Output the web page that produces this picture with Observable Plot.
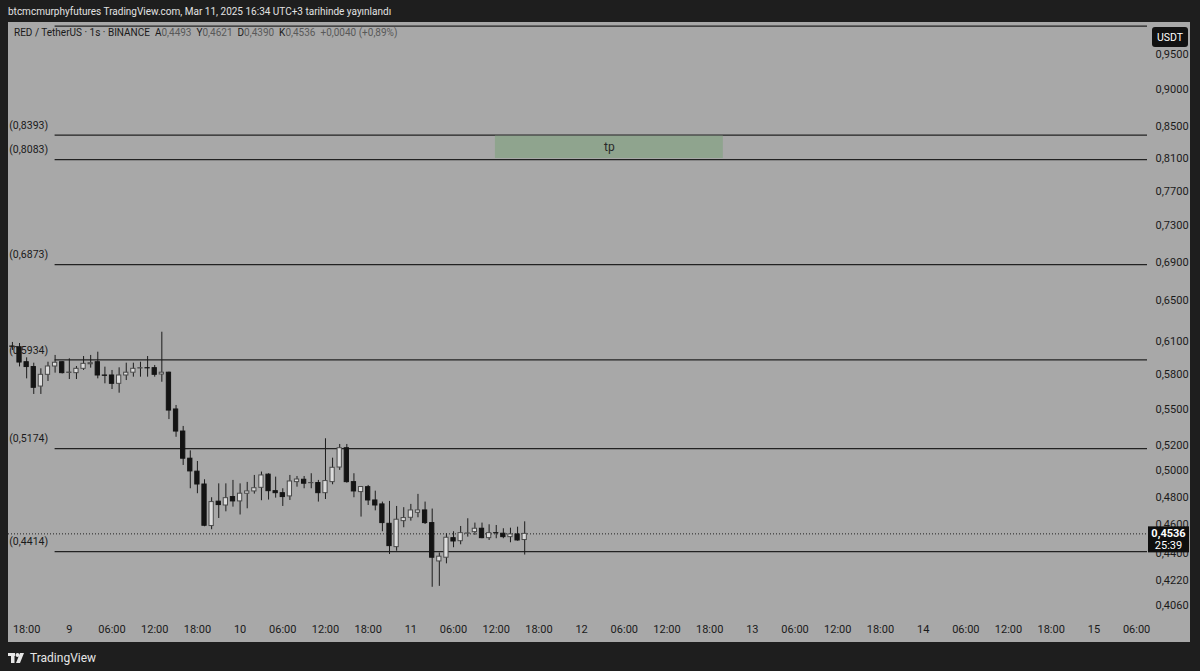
<!DOCTYPE html>
<html><head><meta charset="utf-8">
<script src="https://cdn.jsdelivr.net/npm/d3@7"></script>
<script src="https://cdn.jsdelivr.net/npm/@observablehq/plot@0.6"></script>
<style>
html,body{margin:0;padding:0;background:#1e1e1e;width:1200px;height:671px;overflow:hidden;font-family:Roboto,"Liberation Sans",sans-serif;}
#top{position:absolute;left:8px;top:5px;font-size:10px;line-height:14px;color:#e2e2e2;white-space:pre;}
#panel{position:absolute;left:8px;top:22px;width:1182px;height:620px;background:#a8a8a8;overflow:hidden;}
#legend{position:absolute;left:6px;top:4px;font-size:10px;line-height:14px;color:#1a1a1a;white-space:pre;z-index:2;}
#legend .v{color:#595959;}
#footer{position:absolute;left:8px;top:649px;height:18px;display:flex;align-items:center;gap:4px;color:#e6e6e6;font-size:12px;}
#chart svg{display:block;}
</style></head>
<body>
<div id="top">btcmcmurphyfutures TradingView.com, Mar 11, 2025 16:34 UTC+3 tarihinde yayınlandı</div>
<div id="panel"><div id="legend"></div><div id="chart"></div></div>
<div id="footer">
<svg width="18" height="12" viewBox="0 0 18 12"><rect x="0" y="1" width="7" height="3" fill="#e6e6e6"/><rect x="3" y="1" width="3.5" height="10" fill="#e6e6e6"/><circle cx="9.5" cy="3" r="2" fill="#e6e6e6"/><polygon points="12,1 16,1 12,11 8,11" fill="#e6e6e6"/></svg>
<span>TradingView</span>
</div>
<script>
// ---- data ----
const firstCandle = "2025-03-08T16:00:00Z"; // hourly candles
const open  = [0.6057,0.6050,0.5912,0.5868,0.5694,0.5798,0.5873,0.5912,0.5815,0.5813,
0.5852,0.5893,0.5912,0.5792,0.5792,0.5718,0.5792,0.5817,0.5855,0.5858,
0.5858,0.5801,0.5817,0.5496,0.5312,0.5094,0.4993,0.4895,0.4591,0.4767,
0.4739,0.4801,0.4769,0.4826,0.4843,0.4870,0.4970,0.4845,0.4830,0.4806,
0.4913,0.4931,0.4905,0.4906,0.4830,0.4913,0.5025,0.5177,0.4913,0.4838,
0.4875,0.4776,0.4747,0.4607,0.4444,0.4626,0.4650,0.4686,0.4703,0.4612,
0.4347,0.4372,0.4506,0.4485,0.4537,0.4548,0.4572,0.4506,0.4541,0.4537,
0.4513,0.4532,0.4493];
const high  = [0.6095,0.6085,0.5952,0.5903,0.5852,0.5912,0.5974,0.5918,0.5943,0.5873,
0.5964,0.5974,0.6004,0.5867,0.5837,0.5861,0.5903,0.5903,0.5912,0.5964,
0.5882,0.6192,0.5822,0.5530,0.5354,0.5156,0.5072,0.4931,0.4796,0.4900,
0.4900,0.4926,0.4900,0.4911,0.4964,0.4990,0.4977,0.4951,0.4863,0.4964,
0.4956,0.4956,0.4977,0.4926,0.5253,0.5098,0.5207,0.5207,0.4977,0.4880,
0.4888,0.4845,0.4764,0.4769,0.4732,0.4723,0.4747,0.4821,0.4764,0.4713,
0.4404,0.4537,0.4551,0.4588,0.4643,0.4612,0.4612,0.4600,0.4595,0.4572,
0.4576,0.4583,0.4621];
const low   = [0.6020,0.5869,0.5762,0.5625,0.5625,0.5739,0.5813,0.5806,0.5756,0.5756,
0.5837,0.5858,0.5762,0.5718,0.5668,0.5636,0.5747,0.5777,0.5777,0.5777,
0.5777,0.5732,0.5411,0.5265,0.5041,0.4863,0.4826,0.4586,0.4565,0.4645,
0.4693,0.4727,0.4670,0.4715,0.4823,0.4774,0.4779,0.4793,0.4732,0.4776,
0.4875,0.4863,0.4863,0.4764,0.4783,0.4893,0.5003,0.4905,0.4796,0.4655,
0.4739,0.4700,0.4551,0.4394,0.4416,0.4579,0.4626,0.4650,0.4602,0.4177,
0.4183,0.4331,0.4440,0.4460,0.4513,0.4525,0.4502,0.4490,0.4502,0.4502,
0.4474,0.4485,0.4390];
const close = [0.6055,0.5909,0.5868,0.5683,0.5798,0.5873,0.5907,0.5813,0.5818,0.5852,
0.5897,0.5903,0.5792,0.5789,0.5718,0.5792,0.5817,0.5852,0.5858,0.5856,
0.5798,0.5817,0.5487,0.5312,0.5094,0.4995,0.4895,0.4593,0.4764,0.4742,
0.4793,0.4769,0.4826,0.4843,0.4867,0.4964,0.4845,0.4830,0.4801,0.4918,
0.4933,0.4901,0.4906,0.4830,0.4921,0.5023,0.5177,0.4913,0.4843,0.4876,
0.4776,0.4739,0.4612,0.4451,0.4636,0.4648,0.4703,0.4703,0.4612,0.4372,
0.4379,0.4509,0.4483,0.4541,0.4539,0.4572,0.4506,0.4541,0.4540,0.4513,
0.4532,0.4490,0.4536];

const levelPrices = [0.993, 0.8393, 0.8083, 0.6873, 0.5934, 0.5174, 0.4414];
const levelLabels = ["", "(0,8393)", "(0,8083)", "(0,6873)", "(0,5934)", "(0,5174)", "(0,4414)"];
const levelStart = "2025-03-08T22:00:00Z";

const tpZone = {start: "2025-03-11T11:53:00Z", end: "2025-03-12T19:55:00Z", low: 0.8083, high: 0.8393, label: "tp"};

const yTicks = [0.95, 0.90, 0.85, 0.81, 0.77, 0.73, 0.69, 0.65, 0.61, 0.58, 0.55, 0.52, 0.50, 0.48, 0.46, 0.44, 0.422, 0.406];
const xTickLabels = ["18:00","9","06:00","12:00","18:00","10","06:00","12:00","18:00","11","06:00","12:00","18:00",
  "12","06:00","12:00","18:00","13","06:00","12:00","18:00","14","06:00","12:00","18:00","15","06:00"];
const xTickStart = "2025-03-08T18:00:00Z";

const xDomain = ["2025-03-08T15:27:00Z", "2025-03-15T07:32:00Z"];
const yDomain = [0.3999, 0.9987];

const lastPrice = 0.4536;
const countdown = "25:39";
const symbolText = "RED / TetherUS · 1s · BINANCE";
const changeText = "+0,0040 (+0,89%)";

// ---- build ----
const fmt = v => d3.format(".4f")(v).replace(".", ",");
const t0 = new Date(firstCandle);
const candles = open.map((o, i) => ({date: d3.utcHour.offset(t0, i), open: o, high: high[i], low: low[i], close: close[i]}));
const levels = levelPrices.map((p, i) => ({price: p, label: levelLabels[i]}));
const xStart = new Date(xTickStart);
const xTicks = xTickLabels.map((_, i) => d3.utcHour.offset(xStart, 6 * i));
const tickLabelMap = new Map(xTicks.map((t, i) => [+t, xTickLabels[i]]));
const xEnd = new Date(xDomain[1]);
const lStart = new Date(levelStart);
const lastC = candles[candles.length - 1];

document.getElementById("legend").innerHTML =
  `${symbolText}  A<span class="v">${fmt(lastC.open)}</span>  Y<span class="v">${fmt(lastC.high)}</span>  D<span class="v">${fmt(lastC.low)}</span>  K<span class="v">${fmt(lastC.close)}</span>  <span class="v">${changeText}</span>`;

const dark = "#1c1c1c";
const chart = Plot.plot({
  width: 1182, height: 620,
  marginLeft: 0, marginRight: 43, marginTop: 0, marginBottom: 27,
  style: {background: "transparent", fontFamily: "Roboto, 'Liberation Sans', sans-serif", fontSize: "11px", color: "#1a1a1a"},
  x: {type: "utc", domain: xDomain.map(d => new Date(d))},
  y: {type: "log", domain: yDomain},
  marks: [
    Plot.ruleY(levels, {y: "price", x1: lStart, x2: xEnd, stroke: "#222", strokeWidth: 1.2}),
    Plot.text(levels, {x: lStart, y: "price", text: "label", textAnchor: "end", dx: -7, dy: -9.5, fill: "#1a1a1a", fontSize: 10.5}),
    Plot.rect([tpZone], {x1: d => new Date(d.start), x2: d => new Date(d.end), y1: "low", y2: "high", fill: "#8fa48e", insetTop: 1, insetBottom: 1}),
    Plot.text([tpZone], {x: d => new Date((+new Date(d.start) + +new Date(d.end)) / 2), y: d => Math.sqrt(d.low * d.high), text: "label", fill: "#2a2a2a", fontSize: 12}),
    Plot.ruleY([lastPrice], {stroke: "#222", strokeDasharray: "1,2", strokeWidth: 1}),
    Plot.ruleX(candles, {x: "date", y1: "low", y2: "high", stroke: dark, strokeWidth: 1}),
    Plot.rect(candles, {
      x1: d => d3.utcMinute.offset(d.date, -18), x2: d => d3.utcMinute.offset(d.date, 18),
      y1: "open", y2: "close",
      fill: d => d.close >= d.open ? "#dcdcdc" : "#141414",
      stroke: d => d.close >= d.open ? "#4a4a4a" : "#141414", strokeWidth: 1
    }),
    Plot.axisY({anchor: "right", ticks: yTicks, tickFormat: fmt, tickSize: 0, tickPadding: 8, label: null, fontSize: 11}),
    Plot.axisX({anchor: "bottom", ticks: xTicks, tickFormat: d => tickLabelMap.get(+d) ?? "", tickSize: 0, tickPadding: 10, label: null, fontSize: 11})
  ]
});
document.getElementById("chart").appendChild(chart);

// price tag and currency badge, positioned with the chart's own y scale
const ys = chart.scale("y");
const yOf = v => ys.apply ? ys.apply(v) : d3.scaleLog(ys.domain, ys.range)(v);
const svg = d3.select(chart);
const py = yOf(lastPrice);
const tag = svg.append("g");
tag.append("rect").attr("x", 1140).attr("y", py - 7).attr("width", 41).attr("height", 26).attr("fill", "#0e0e0e");
tag.append("text").attr("x", 1160.5).attr("y", py + 4).attr("text-anchor", "middle").attr("fill", "#fff")
  .attr("font-size", 11).attr("font-weight", "bold").text(fmt(lastPrice));
tag.append("text").attr("x", 1160.5).attr("y", py + 16).attr("text-anchor", "middle").attr("fill", "#fff")
  .attr("font-size", 11).text(countdown);
const badge = svg.append("g");
badge.append("rect").attr("x", 1144).attr("y", 5).attr("width", 36).attr("height", 20).attr("rx", 3).attr("fill", "#111");
badge.append("text").attr("x", 1162).attr("y", 19).attr("text-anchor", "middle").attr("fill", "#fff").attr("font-size", 10.5).text("USDT");
</script>
</body></html>
